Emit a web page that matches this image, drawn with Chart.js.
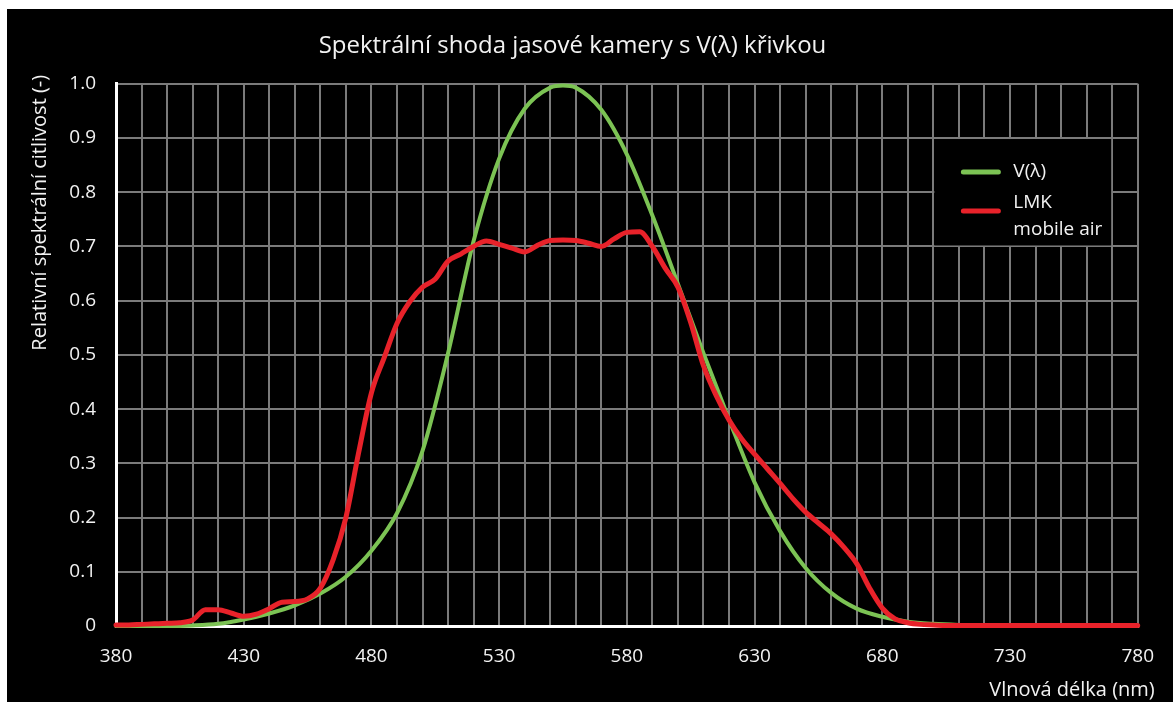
<!DOCTYPE html>
<html>
<head>
<meta charset="utf-8">
<title>Spektrální shoda</title>
<script src="https://cdn.jsdelivr.net/npm/chart.js@4.4.0/dist/chart.umd.min.js"></script>
<style>
  html, body { margin: 0; padding: 0; background: #fff; }
  #wrap { position: absolute; left: 7px; top: 9px; width: 1166px; height: 693px; background: #000; }
</style>
</head>
<body>
<div id="wrap"><canvas id="chart"></canvas></div>
<script>
// V(λ) curve, 10 nm steps (plus the peak at 555)
const vWavelengths = [380, 390, 400, 410, 420, 430, 440, 450, 460, 470,
                      480, 490, 500, 510, 520, 530, 540, 550, 555, 560, 570,
                      580, 590, 600, 610, 620, 630, 640, 650, 660, 670,
                      680, 690, 700, 710, 720, 730, 740, 750, 760, 770, 780];
const vLambda = [0.000, 0.000, 0.000, 0.001, 0.004, 0.012, 0.023, 0.038, 0.060, 0.091,
                 0.139, 0.208, 0.323, 0.503, 0.710, 0.862, 0.954, 0.993, 0.997, 0.993, 0.952,
                 0.870, 0.757, 0.631, 0.503, 0.381, 0.265, 0.175, 0.107, 0.061, 0.032,
                 0.017, 0.008, 0.004, 0.002, 0.001, 0.000, 0.000, 0.000, 0.000, 0.000, 0.000];

// LMK mobile air, 5 nm steps
const lmkWavelengths = [380, 385, 390, 395, 400, 405, 410, 415, 420, 425,
                        430, 435, 440, 445, 450, 455, 460, 465, 470, 475,
                        480, 485, 490, 495, 500, 505, 510, 515, 520, 525,
                        530, 535, 540, 545, 550, 555, 560, 565, 570, 575,
                        580, 585, 590, 595, 600, 605, 610, 615, 620, 625,
                        630, 635, 640, 645, 650, 655, 660, 665, 670, 675,
                        680, 685, 690, 695, 700, 705, 710, 715, 720, 725,
                        730, 735, 740, 745, 750, 755, 760, 765, 770, 775, 780];
const lmkMobileAir = [0.002, 0.002, 0.003, 0.004, 0.005, 0.006, 0.011, 0.030, 0.030, 0.024,
                      0.018, 0.022, 0.032, 0.044, 0.045, 0.050, 0.070, 0.122, 0.200, 0.320,
                      0.430, 0.495, 0.558, 0.598, 0.625, 0.640, 0.673, 0.686, 0.700, 0.710,
                      0.704, 0.697, 0.690, 0.702, 0.711, 0.712, 0.711, 0.706, 0.700, 0.714,
                      0.726, 0.727, 0.700, 0.660, 0.625, 0.560, 0.480, 0.425, 0.380, 0.345,
                      0.317, 0.290, 0.263, 0.235, 0.210, 0.190, 0.170, 0.145, 0.115, 0.070,
                      0.033, 0.013, 0.006, 0.003, 0.002, 0.001, 0.001, 0.001, 0.001, 0.001,
                      0.001, 0.001, 0.001, 0.001, 0.001, 0.001, 0.001, 0.001, 0.001, 0.001, 0.001];

const seriesLabels = ['V(λ)', ['LMK', 'mobile air']];
const seriesColors = ['#7cc354', '#e8222a'];

const xLabelStep = 50;
const chartTitle = 'Spektrální shoda jasové kamery s V(λ) křivkou';
const xTitle = 'Vlnová délka (nm)';
const yTitle = 'Relativní spektrální citlivost (-)';

const FONT = '"Open Sans", "DejaVu Sans", sans-serif';
const TEXT = '#f2f2f2';

// legend box sits in the grid cell block 700-770 nm / 0.7-0.9
const overlay = {
    id: 'overlay',
    beforeDatasetsDraw(chart) {
        const { ctx, scales: { x, y } } = chart;
        const l = x.getPixelForValue(700), r = x.getPixelForValue(770);
        const t = y.getPixelForValue(0.9), b = y.getPixelForValue(0.7);
        ctx.save();
        ctx.fillStyle = '#000';
        ctx.fillRect(l + 1, t + 1, r - l - 2, b - t - 2);
        ctx.restore();
    },
    afterDraw(chart) {
        const { ctx, chartArea, scales: { x, y } } = chart;
        ctx.save();
        ctx.fillStyle = TEXT;

        // axis titles
        ctx.font = '20px ' + FONT;
        ctx.textBaseline = 'middle';
        ctx.save();
        ctx.translate(33, chartArea.top - 9);
        ctx.rotate(-Math.PI / 2);
        ctx.textAlign = 'right';
        ctx.fillText(yTitle, 0, 0);
        ctx.restore();

        ctx.font = '20px ' + FONT;
        ctx.textAlign = 'right';
        ctx.fillText(xTitle, chartArea.right + 17, chartArea.bottom + 64);

        // legend
        const lx = x.getPixelForValue(700) + 30;
        const ly = y.getPixelForValue(0.9);
        ctx.font = '19px ' + FONT;
        ctx.textAlign = 'left';
        ctx.lineCap = 'round';
        ctx.lineWidth = 5;
        const rows = [[34, [34]], [73, [65, 92]]];
        chart.data.datasets.forEach((ds, i) => {
            const [lineY, textYs] = rows[i];
            ctx.strokeStyle = ds.borderColor;
            ctx.beginPath();
            ctx.moveTo(lx, ly + lineY);
            ctx.lineTo(lx + 35, ly + lineY);
            ctx.stroke();
            const lines = Array.isArray(ds.label) ? ds.label : [ds.label];
            lines.forEach((txt, k) => ctx.fillText(txt, lx + 50, ly + textYs[k]));
        });
        ctx.restore();
    }
};

new Chart(document.getElementById('chart'), {
    type: 'line',
    data: {
        datasets: [
            {
                label: seriesLabels[0],
                data: vWavelengths.map((w, i) => ({ x: w, y: vLambda[i] })),
                borderColor: seriesColors[0],
                borderWidth: 4,
                order: 1
            },
            {
                label: seriesLabels[1],
                data: lmkWavelengths.map((w, i) => ({ x: w, y: lmkMobileAir[i] })),
                borderColor: seriesColors[1],
                borderWidth: 5,
                order: 0
            }
        ]
    },
    options: {
        responsive: true,
        maintainAspectRatio: false,
        animation: false,
        layout: { padding: { left: 0, right: 35, top: 0, bottom: 0 } },
        elements: {
            point: { radius: 0 },
            line: { cubicInterpolationMode: 'monotone', borderJoinStyle: 'round', borderCapStyle: 'round', fill: false }
        },
        datasets: { line: { clip: false } },
        scales: {
            x: {
                type: 'linear',
                min: 380,
                max: 780,
                grid: { color: '#7b7b7b', lineWidth: 2, drawTicks: false },
                border: { color: '#ffffff', width: 3 },
                ticks: {
                    stepSize: 10,
                    autoSkip: false,
                    maxRotation: 0,
                    padding: 19,
                    color: TEXT,
                    font: { family: FONT, size: 19 },
                    callback: v => ((v - 380) % xLabelStep === 0 ? String(v) : '')
                },
                afterFit: s => { s.height = 76; }
            },
            y: {
                min: 0,
                max: 1,
                grid: { color: '#7b7b7b', lineWidth: 2, drawTicks: false },
                border: { color: '#ffffff', width: 3 },
                ticks: {
                    stepSize: 0.1,
                    padding: 20,
                    color: TEXT,
                    font: { family: FONT, size: 19 },
                    callback: v => (v === 0 ? '0' : v.toFixed(1))
                },
                afterFit: s => { s.width = 109; }
            }
        },
        plugins: {
            legend: { display: false },
            tooltip: { enabled: false },
            title: {
                display: true,
                text: chartTitle,
                color: TEXT,
                font: { family: FONT, size: 24, weight: 'normal' },
                padding: { top: 23, bottom: 23 }
            }
        }
    },
    plugins: [overlay]
});
</script>
</body>
</html>
